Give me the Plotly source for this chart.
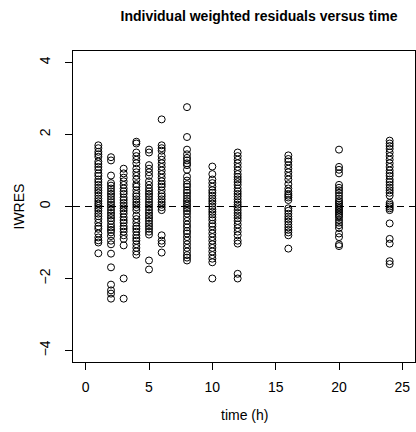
import plotly.graph_objects as go

# ---- data ----
times = [1, 2, 3, 4, 5, 6, 8, 10, 12, 16, 20, 24]

iwres_t1 = [1.7, 1.62, 1.52, 1.45, 1.38, 1.25, 1.18, 1.1, 1.02, 0.92, 0.85, 0.75, 0.68, 0.6, 0.52,
            0.45, 0.38, 0.3, 0.22, 0.15, 0.08, 0.02, -0.05, -0.12, -0.2, -0.27, -0.35, -0.45, -0.55,
            -0.62, -0.75, -0.86, -0.94, -1.0, -1.3]
iwres_t2 = [1.37, 1.28, 0.86, 0.65, 0.58, 0.5, 0.42, 0.35, 0.28, 0.2, 0.12, 0.05, -0.02, -0.1, -0.18,
            -0.25, -0.32, -0.4, -0.5, -0.58, -0.65, -0.72, -0.82, -0.95, -1.05, -1.31, -1.69, -2.17,
            -2.33, -2.42, -2.56]
iwres_t3 = [1.05, 0.92, 0.8, 0.7, 0.6, 0.5, 0.42, 0.35, 0.25, 0.18, 0.1, 0.02, -0.05, -0.12, -0.2,
            -0.3, -0.38, -0.45, -0.55, -0.62, -0.7, -0.8, -0.9, -1.08, -2.0, -2.56]
iwres_t4 = [1.8, 1.75, 1.5, 1.4, 1.3, 1.2, 1.05, 0.95, 0.85, 0.75, 0.62, 0.55, 0.45, 0.35, 0.28, 0.2,
            0.12, 0.05, -0.02, -0.1, -0.25, -0.35, -0.45, -0.55, -0.62, -0.7, -0.8, -0.88, -0.95,
            -1.05, -1.15, -1.25, -1.34]
iwres_t5 = [1.58, 1.5, 1.15, 1.05, 0.95, 0.85, 0.7, 0.6, 0.5, 0.42, 0.35, 0.28, 0.2, 0.12, 0.05,
            -0.02, -0.1, -0.18, -0.25, -0.32, -0.4, -0.48, -0.55, -0.62, -0.7, -0.78, -1.5, -1.75]
iwres_t6 = [2.42, 1.7, 1.62, 1.55, 1.4, 1.3, 1.2, 1.1, 1.0, 0.9, 0.8, 0.7, 0.62, 0.55, 0.45, 0.35,
            0.28, 0.2, 0.12, 0.05, -0.02, -0.1, -0.8, -0.95, -1.03, -1.28]
iwres_t8 = [2.76, 1.93, 1.58, 1.45, 1.35, 1.28, 1.2, 1.15, 1.02, 0.83, 0.72, 0.62, 0.55, 0.45, 0.38,
            0.3, 0.22, 0.15, 0.08, 0.02, -0.05, -0.12, -0.2, -0.3, -0.4, -0.5, -0.58, -0.68, -0.75,
            -0.85, -0.95, -1.05, -1.15, -1.25, -1.35, -1.42, -1.5]
iwres_t10 = [1.11, 0.9, 0.75, 0.65, 0.55, 0.45, 0.38, 0.3, 0.22, 0.15, 0.08, 0.0, -0.08, -0.15,
             -0.22, -0.3, -0.38, -0.48, -0.55, -0.65, -0.75, -0.85, -0.95, -1.05, -1.15, -1.25,
             -1.35, -1.45, -1.55, -2.0]
iwres_t12 = [1.5, 1.4, 1.3, 1.2, 1.1, 1.0, 0.9, 0.82, 0.75, 0.68, 0.6, 0.5, 0.42, 0.35, 0.28, 0.2,
             0.12, 0.05, -0.02, -0.1, -0.18, -0.25, -0.32, -0.4, -0.5, -0.6, -0.7, -0.8, -0.95,
             -1.03, -1.87, -2.0]
iwres_t16 = [1.42, 1.32, 1.25, 1.15, 1.05, 0.95, 0.85, 0.75, 0.62, 0.5, 0.42, 0.35, 0.3, 0.25, 0.18,
             -0.05, -0.12, -0.2, -0.28, -0.35, -0.42, -0.5, -0.58, -0.65, -0.72, -0.8, -1.17]
iwres_t20 = [1.58, 1.1, 1.02, 0.92, 0.6, 0.52, 0.45, 0.38, 0.3, 0.22, 0.15, 0.1, 0.05, 0.0, -0.05,
             -0.1, -0.15, -0.2, -0.25, -0.3, -0.38, -0.45, -0.52, -0.6, -0.75, -0.85, -1.05, -1.1]
iwres_t24 = [1.83, 1.75, 1.68, 1.6, 1.5, 1.4, 1.3, 1.2, 1.1, 1.0, 0.92, 0.85, 0.75, 0.68, 0.6, 0.52,
             0.45, 0.38, 0.3, 0.1, 0.05, 0.0, -0.05, -0.1, -0.47, -0.9, -1.03, -1.52, -1.6]

x_ticks = [0, 5, 10, 15, 20, 25]
y_ticks = [-4, -2, 0, 2, 4]
y_tick_labels = ["\u22124", "\u22122", "0", "2", "4"]

columns = [iwres_t1, iwres_t2, iwres_t3, iwres_t4, iwres_t5, iwres_t6,
           iwres_t8, iwres_t10, iwres_t12, iwres_t16, iwres_t20, iwres_t24]

xs, ys = [], []
for t, col in zip(times, columns):
    xs.extend([t] * len(col))
    ys.extend(col)

FONT = "Liberation Sans, Arial, Helvetica, sans-serif"

fig = go.Figure()
fig.add_trace(go.Scatter(
    x=xs, y=ys, mode="markers",
    marker=dict(symbol="circle-open", size=7, color="black", line=dict(width=1, color="black")),
    showlegend=False, hoverinfo="skip",
))

fig.add_hline(y=0, line=dict(color="black", width=1, dash="7px,5px"))

fig.update_layout(
    width=416, height=432,
    margin=dict(l=73, r=1, t=51, b=70),
    paper_bgcolor="white", plot_bgcolor="white",
    font=dict(family=FONT, size=14, color="black"),
    title=dict(text="<b>Individual weighted residuals versus time</b>",
               x=259 / 416, xanchor="center", y=1 - 16 / 432, yanchor="middle",
               font=dict(family=FONT, size=14, color="black")),
    xaxis=dict(range=[-1, 26], tickvals=x_ticks, ticktext=[str(v) for v in x_ticks],
               ticks="outside", ticklen=7, tickwidth=1, tickcolor="black",
               ticklabelstandoff=5,
               showline=True, linecolor="black", linewidth=1, mirror=True,
               showgrid=False, zeroline=False, tickfont=dict(size=14, color="black")),
    yaxis=dict(range=[-4.32, 4.32], tickvals=y_ticks, ticktext=y_tick_labels,
               tickangle=-90, ticklabelstandoff=9,
               ticks="outside", ticklen=7, tickwidth=1, tickcolor="black",
               showline=True, linecolor="black", linewidth=1, mirror=True,
               showgrid=False, zeroline=False, tickfont=dict(size=14, color="black")),
    annotations=[
        dict(text="time (h)", x=0.5, xref="paper", y=0, yref="paper",
             xanchor="center", yanchor="middle", yshift=-53,
             showarrow=False, font=dict(size=14, color="black")),
        dict(text="IWRES", textangle=-90, xref="paper", yref="paper", x=0, y=0.5,
             xanchor="center", yanchor="middle", xshift=-55,
             showarrow=False, font=dict(size=14, color="black")),
    ],
)

fig.write_html("out.html", config={"displayModeBar": False},
               post_script="document.body.style.margin='0';")
